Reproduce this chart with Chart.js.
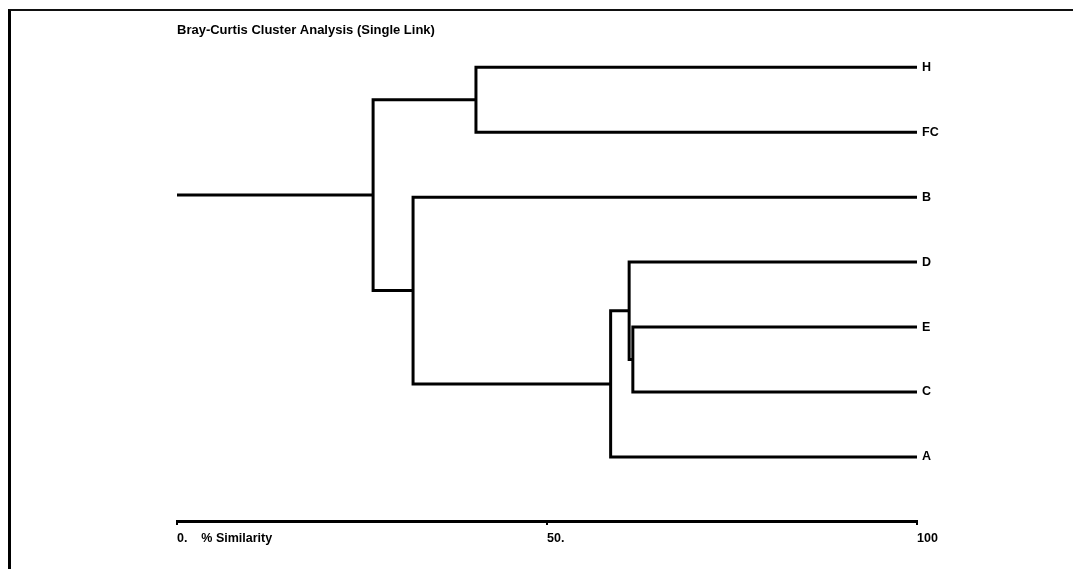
<!DOCTYPE html>
<html>
<head>
<meta charset="utf-8">
<script src="https://cdn.jsdelivr.net/npm/chart.js@4.4.1/dist/chart.umd.min.js"></script>
<style>
  html, body { margin: 0; padding: 0; background: #fff; }
  #frame { position: absolute; left: 8px; top: 9px; width: 1070px; height: 570px;
           border-top: 2px solid #111; border-left: 3px solid #000; }
  #wrap { position: absolute; left: 0; top: 0; width: 1073px; height: 569px; }
</style>
</head>
<body>
<div id="frame"></div>
<div id="wrap"><canvas id="dendro" width="1073" height="569"></canvas></div>
<script>
// leaves, top to bottom
const leaves = ["H", "FC", "B", "D", "E", "C", "A"];
// merges: [left, right, % similarity]; leaf = index, node = "m" + merge index
const mergeLeft  = [4,    3,    "m1", 0,    2,    "m3"];
const mergeRight = [5,    "m0", 6,    1,    "m2", "m4"];
const mergeSim   = [61.6, 61.1, 58.6, 40.4, 31.9, 26.5];
const tickValues = [0, 50, 100];
const tickLabels = ["0.    % Similarity", "50.", "100"];

// work out where each node sits
const nodes = {};
leaves.forEach((name, i) => { nodes[i] = { x: 100, y: i }; });
const datasets = [];
mergeSim.forEach((sim, i) => {
    const a = nodes[mergeLeft[i]], b = nodes[mergeRight[i]];
    nodes["m" + i] = { x: sim, y: (a.y + b.y) / 2 };
    datasets.push({
        data: [{ x: a.x, y: a.y }, { x: sim, y: a.y }, { x: sim, y: b.y }, { x: b.x, y: b.y }]
    });
});
const root = nodes["m" + (mergeSim.length - 1)];
datasets.push({ data: [{ x: 0, y: root.y }, { x: root.x, y: root.y }] });
datasets.forEach(d => Object.assign(d, {
    showLine: true, borderColor: "#000", borderWidth: 3, pointRadius: 0,
    borderJoinStyle: "miter", tension: 0, fill: false
}));

const family = "Arial, 'Liberation Sans', sans-serif";
const font = { family: family, size: 12.5, weight: "bold" };

new Chart(document.getElementById("dendro"), {
    type: "scatter",
    data: { datasets },
    options: {
        responsive: false,
        animation: false,
        events: [],
        layout: { padding: { left: 177, right: 0, top: 0, bottom: 0 } },
        plugins: {
            legend: { display: false },
            tooltip: { enabled: false },
            title: {
                display: true,
                text: "Bray-Curtis Cluster Analysis (Single Link)",
                align: "start",
                fullSize: false,
                color: "#000",
                font: { family: family, size: 13, weight: "bold" },
                padding: { top: 23, bottom: 0 }
            }
        },
        scales: {
            x: {
                type: "linear",
                min: 0, max: 100,
                afterBuildTicks: ax => { ax.ticks = tickValues.map(v => ({ value: v })); },
                afterFit: s => { s.height = 48; },
                ticks: {
                    align: "start",
                    color: "#000",
                    font: font,
                    padding: 6,
                    maxRotation: 0,
                    autoSkip: false,
                    callback: (v) => tickLabels[tickValues.indexOf(v)]
                },
                grid: { drawOnChartArea: false, drawTicks: true, tickLength: 4, color: "#000", lineWidth: 2 },
                border: { display: true, color: "#000", width: 3 }
            },
            y: {
                type: "linear",
                position: "right",
                reverse: true,
                min: -0.44, max: 6.985,
                afterBuildTicks: ax => { ax.ticks = leaves.map((_, i) => ({ value: i })); },
                afterFit: s => { s.width = 156; },
                ticks: {
                    color: "#000",
                    font: font,
                    padding: 5,
                    autoSkip: false,
                    callback: (v) => leaves[v]
                },
                grid: { display: false, drawTicks: false },
                border: { display: false }
            }
        }
    }
});
</script>
</body>
</html>
